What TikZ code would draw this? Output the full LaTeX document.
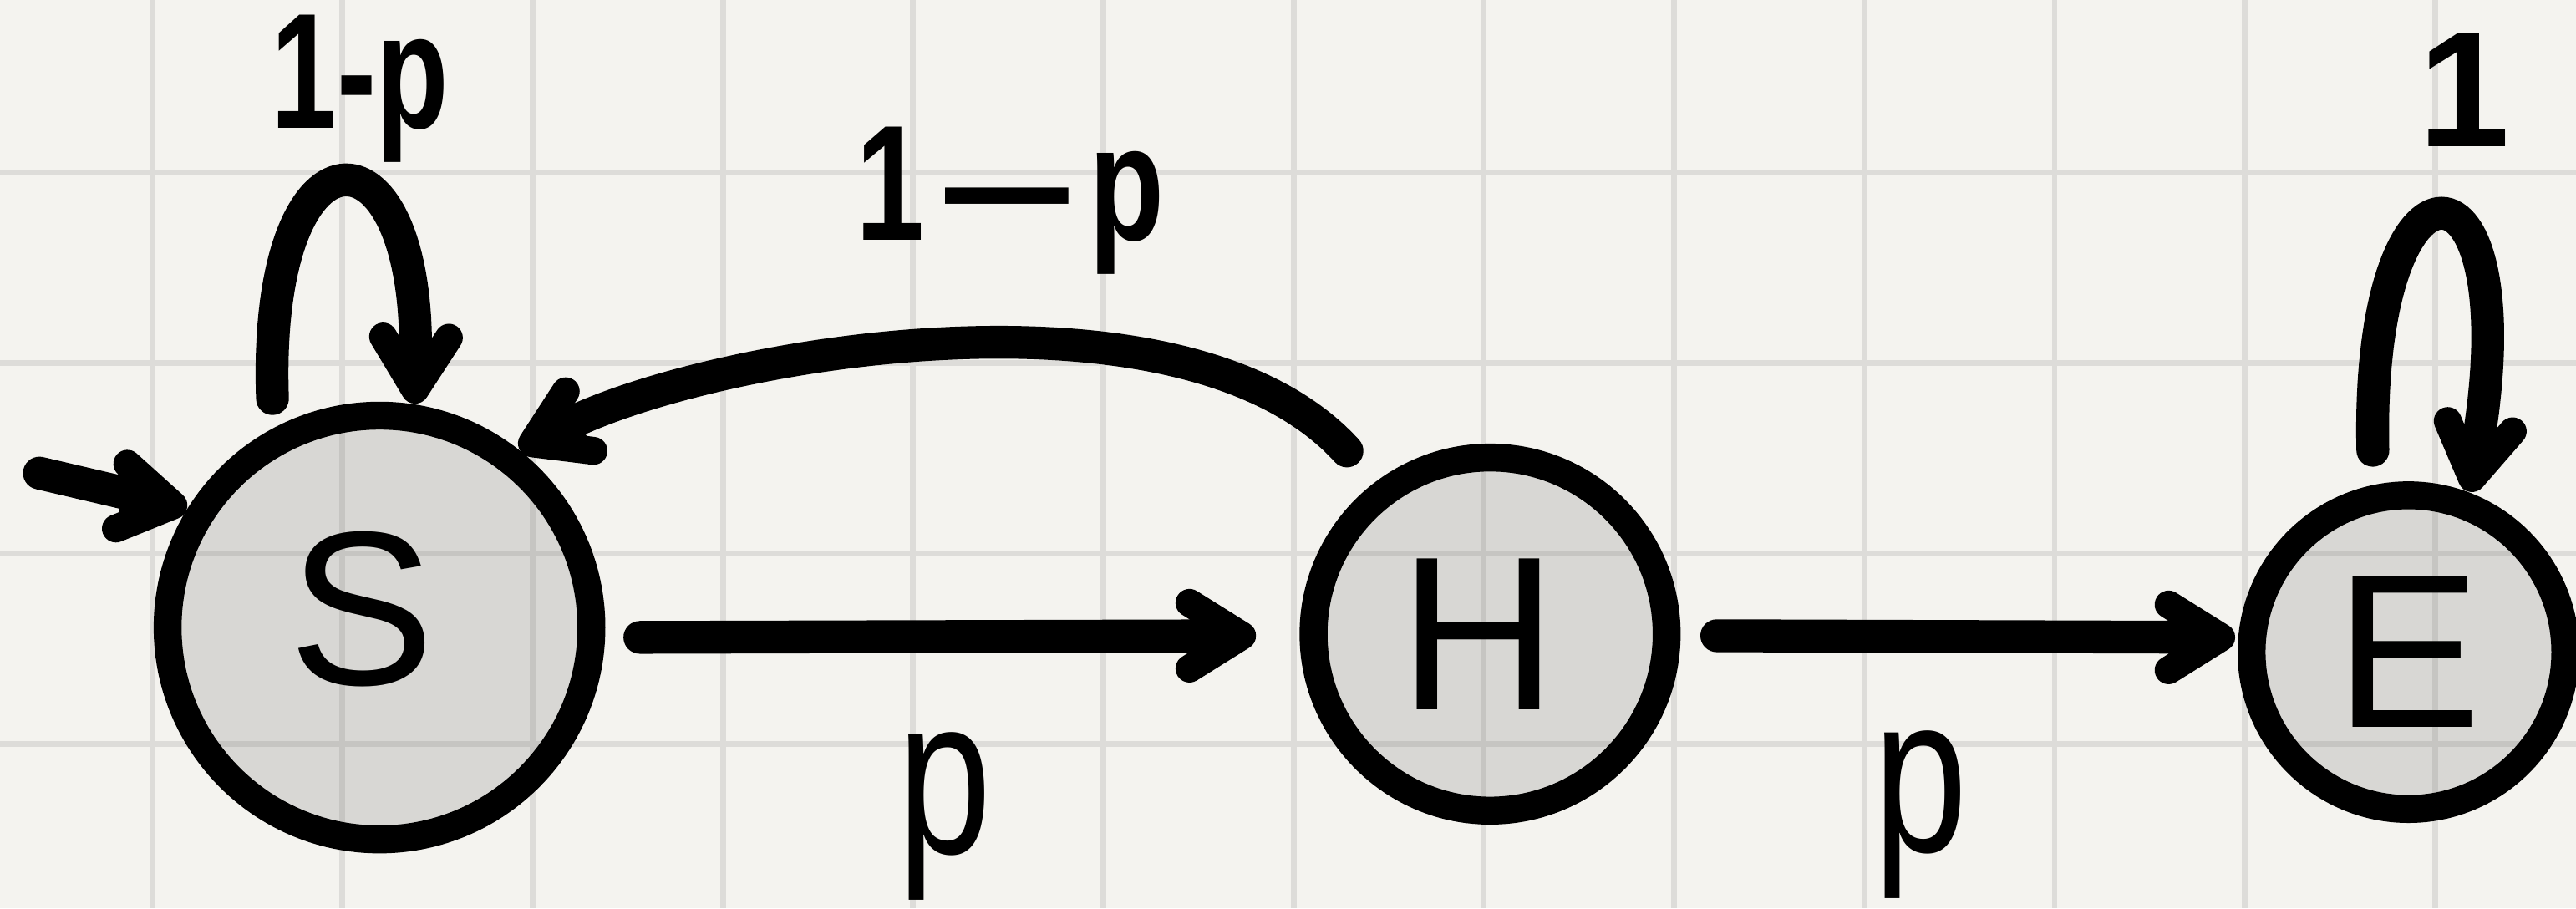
\documentclass[tikz,border=0pt]{standalone}
\usepackage{graphicx}
\usepackage{fontspec}
\setmainfont{Liberation Sans}
\usetikzlibrary{calc}
\definecolor{paper}{HTML}{F4F3EF}
\definecolor{gridc}{HTML}{DDDCD9}
\definecolor{gridin}{HTML}{C6C5C2}
\definecolor{statefill}{HTML}{D8D7D4}
\newcommand\fbig{\fontsize{76}{80}\selectfont}
\newcommand\flab{\fontsize{57}{60}\selectfont\bfseries}
\newcommand\fpp{\fontsize{78}{80}\selectfont}
\newcommand\gridlines[1]{%
  \foreach \i in {0,...,12}
    \draw[#1] ({92.6+115.8*\i},0) -- ({92.6+115.8*\i},553);
  \foreach \j in {0,...,3}
    \draw[#1] (0,{105+116*\j}) -- (1568,{105+116*\j});}
\begin{document}
\begin{tikzpicture}[x=0.02cm,y=-0.02cm,
  gridline/.style={draw=gridc,line width=0.07cm},
  gridinner/.style={draw=gridin,line width=0.07cm},
  state/.style={circle,draw=black,line width=0.34cm,inner sep=0pt,font=\fbig},
  arr/.style={draw=black,line width=0.4cm,line cap=round,shorten >=0.6cm},
  ahead/.pic={
    \fill[black] (-9,0) -- (-41,-20) -- (-41,20) -- cycle;
    \draw[black,line width=0.34cm,line cap=round,line join=round]
      (-41,-20) -- (-9,0) -- (-41,20);
    \draw[black,line width=0.34cm,line cap=round] (-36,0) -- (-12,0);},
  lab/.style={font=\flab,inner sep=0pt},
  plab/.style={font=\fpp,inner sep=0pt}]
\fill[paper] (0,0) rectangle (1568,553);
\useasboundingbox (0,0) rectangle (1568,553);
\gridlines{gridline}
% state discs with the grid seen through them
\foreach \x/\y/\r in {231/382/129,907/386/107.5,1466/397/95.5}{
  \fill[statefill] (\x,\y) circle (\r);
  \begin{scope}
    \clip (\x,\y) circle (\r);
    \gridlines{gridinner}
  \end{scope}}
% states
\node[state,minimum size=5.16cm] (S) at (231,382) {\raisebox{0.48cm}{S}\hspace*{0.44cm}};
\node[state,minimum size=4.3cm] (H) at (907,386) {H\hspace*{0.28cm}};
\node[state,minimum size=3.82cm] (E) at (1466,397) {E};
% initial arrow
\coordinate (init) at (24,288);
\draw[arr] (init) -- (S.148);
\pic[rotate=-10] at (S.148) {ahead};
% self loops
\draw[arr,shorten <=0.36cm] (S.118) .. controls +(-6.6,-190.8) and +(2.5,-176.4) .. (S.81);
\pic[rotate=-91] at (S.81) {ahead};
\draw[arr] ($(E.center)!1.2!(E.100)$) .. controls +(-4.4,-194.4) and +(36,-215) .. (E.69);
\pic[rotate=-99] at (E.69) {ahead};
% H back to S
\draw[arr] ($(H.center)!1.22!(H.128)$) .. controls +(-100,-110) and +(114.5,-58.8) .. (S.52);
\pic[rotate=-155] at (S.52) {ahead};
% forward arrows
\draw[arr] ($(S.east)+(21,6)$) -- ($(H.west)+(-26,1)$);
\pic at ($(H.west)+(-26,1)$) {ahead};
\draw[arr] ($(H.east)+(22,1)$) -- ($(E.west)+(-1,-9)$);
\pic at ($(E.west)+(-1,-9)$) {ahead};
% labels
\node[lab] (lSS) at (219,54) {\scalebox{0.72}[1]{1-p}};
\node[lab] (lHS) at (615,122) {\scalebox{0.75}[1]{1\,—\,p}};
\node[plab] (lSH) at (575,497) {\scalebox{0.75}[1]{p}};
\node[plab] (lHE) at (1169,496) {\scalebox{0.75}[1]{p}};
\node[lab] (lEE) at (1500,55) {1};
\end{tikzpicture}
\end{document}
